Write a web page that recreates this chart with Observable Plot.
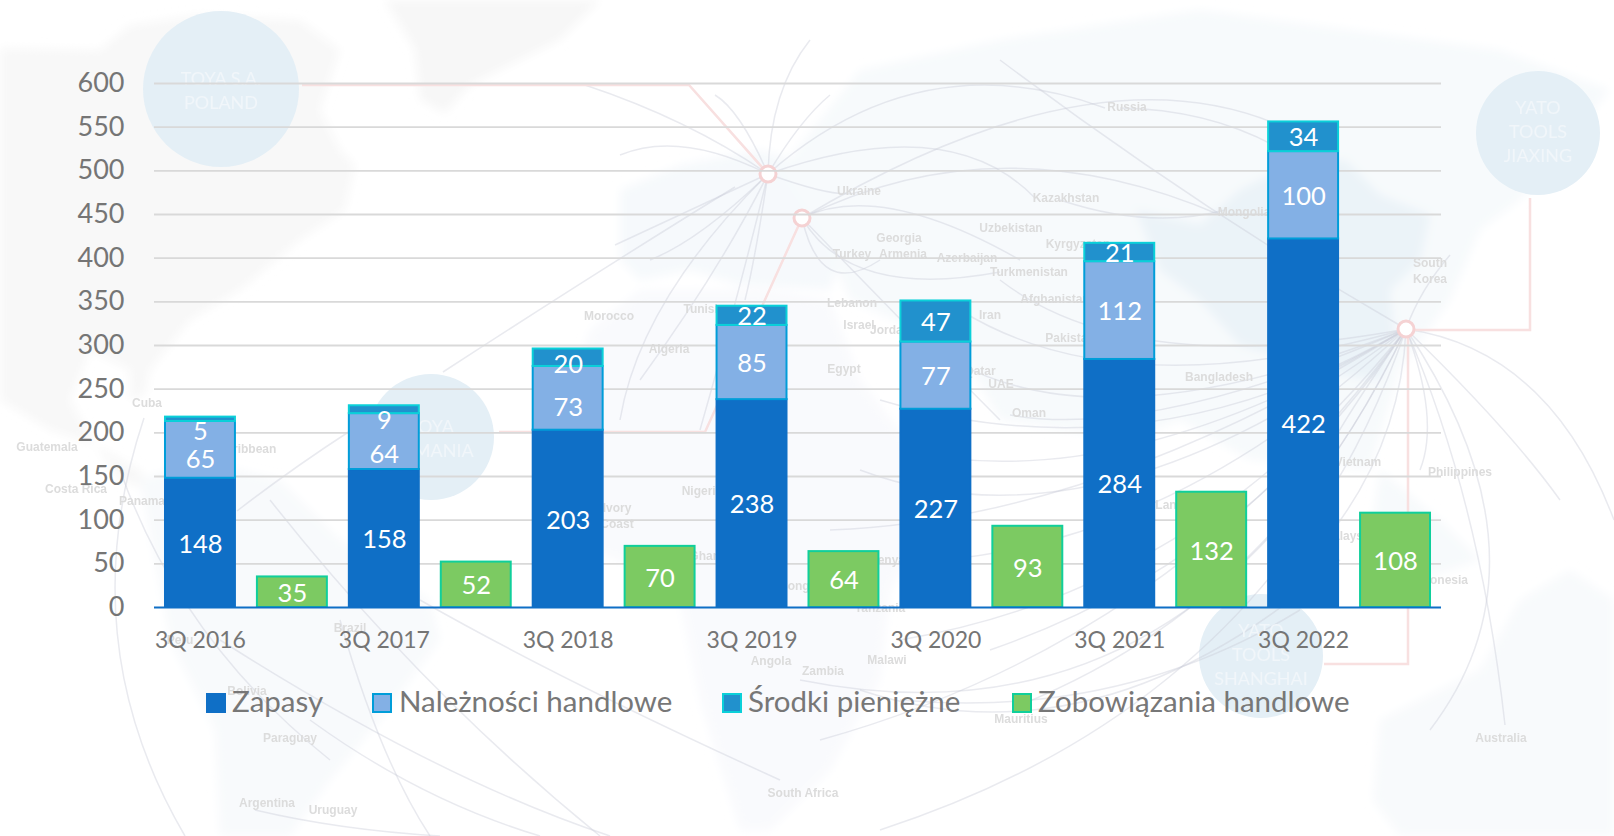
<!DOCTYPE html>
<html lang="pl">
<head>
<meta charset="utf-8">
<script src="https://cdn.jsdelivr.net/npm/d3@7"></script>
<script src="https://cdn.jsdelivr.net/npm/@observablehq/plot@0.6"></script>
<style>
html,body{margin:0;padding:0;background:#fff;overflow:hidden}
#stage{position:relative;width:1614px;height:836px;overflow:hidden;font-family:Lato,sans-serif}
#map,#chart{position:absolute;left:0;top:0}
#chart svg{background:transparent;display:block;overflow:visible}
#legend{position:absolute;left:0;top:680px;width:1614px;height:46px}
#legend .sw{position:absolute;top:13px;width:16px;height:16px;border-style:solid;border-width:2px}
#legend .tx{position:absolute;top:2px;font-size:29.5px;line-height:38px;color:#777;white-space:nowrap}
</style>
</head>
<body>
<div id="stage">
  <svg id="map" width="1614" height="836"></svg>
  <div id="chart"></div>
  <div id="legend"></div>
</div>
<script>
// ---- chart data ----
const quarters = ["3Q 2016","3Q 2017","3Q 2018","3Q 2019","3Q 2020","3Q 2021","3Q 2022"];
const zapasy = [148,158,203,238,227,284,422];
const naleznosci = [65,64,73,85,77,112,100];
const srodki = [5,9,20,22,47,21,34];
const zobowiazania = [35,52,70,64,93,132,108];
const seriesNames = ["Zapasy","Należności handlowe","Środki pieniężne","Zobowiązania handlowe"];
const fills = ["#0f6fc6","#83b0e5","#2191cd","#7cca62"];
const strokes = ["#0f6fc6","#009dd9","#0bd0d9","#10cf9b"];
const yTicks = [0,50,100,150,200,250,300,350,400,450,500,550,600];
// labels the original moved by hand off the segment middle, in value units
const labelShift = {"3Q 2016|65":-10,"3Q 2016|5":-13,"3Q 2017|64":-13,"3Q 2017|9":-11,"3Q 2018|73":-9,"3Q 2018|20":-6};

const assets = q => q + "|a", liabilities = q => q + "|l";
const xDomain = quarters.flatMap(q => [assets(q), liabilities(q)]);
const rows = [];
const labels = [];
quarters.forEach((q,i) => {
  let base = 0;
  [zapasy,naleznosci,srodki].forEach((arr,s) => {
    rows.push({x:assets(q),series:s,value:arr[i]});
    labels.push({x:assets(q),value:arr[i],mid:base+arr[i]/2+(labelShift[q+"|"+arr[i]]||0)});
    base += arr[i];
  });
  rows.push({x:liabilities(q),series:3,value:zobowiazania[i]});
  labels.push({x:liabilities(q),value:zobowiazania[i],mid:zobowiazania[i]/2});
});

const chart = Plot.plot({
  width:1614,height:670,
  marginLeft:154,marginRight:173,marginTop:83,marginBottom:63,
  style:{background:"transparent",fontFamily:"Lato,sans-serif"},
  x:{domain:xDomain,paddingInner:20/92,paddingOuter:10/92,round:false,label:null},
  y:{domain:[0,600],label:null},
  marks:[
    Plot.ruleY(yTicks.slice(1),{stroke:"#d9d9d9",strokeWidth:1.8,strokeOpacity:1}),
    Plot.barY(rows,Plot.stackY({
      x:"x",y:"value",z:"series",order:null,
      fill:d=>fills[d.series],stroke:d=>strokes[d.series],
      strokeWidth:2,insetLeft:1,insetRight:1
    })),
    Plot.ruleY([0],{stroke:"#0f6fc6",strokeWidth:2}),
    Plot.text(labels,{x:"x",y:"mid",dy:1.5,text:d=>String(d.value),fill:"#fff",fontSize:25.5,fontFamily:"Lato,sans-serif"}),
    Plot.axisY(yTicks,{tickSize:0,tickPadding:30,label:null,fontSize:27,fill:"#757575",fontFamily:"Lato,sans-serif",tickFormat:d=>String(d),anchor:"left"}),
    Plot.axisX(quarters.map(assets),{tickSize:0,tickPadding:24,label:null,fontSize:23,fill:"#757575",fontFamily:"Lato,sans-serif",tickFormat:d=>d.split("|")[0],anchor:"bottom"})
  ]
});
document.getElementById("chart").append(chart);

// ---- legend ----
const legendSwatchX = [206,372,722,1012];
const legendTextX = [232,399,748,1038];
const legend = d3.select("#legend");
seriesNames.forEach((name,i)=>{
  legend.append("div").attr("class","sw").style("left",legendSwatchX[i]+"px").style("background",fills[i]).style("border-color",strokes[i]);
  legend.append("div").attr("class","tx").style("left",legendTextX[i]+"px").text(name);
});

// ---- decorative world-map backdrop (not data) ----
const land = [
 ["#f8f8f8","M0,48 L100,50 130,25 200,15 300,20 340,50 320,110 340,150 355,165 345,210 300,240 240,290 190,320 150,370 145,395 130,400 130,370 90,350 70,400 95,445 50,430 0,400Z"],
 ["#f7f7f7","M385,0 L600,0 560,40 500,70 470,85 445,113 420,100 415,50Z"],
 ["#f8f8f8","M95,445 L140,470 150,490 120,480Z"],
 ["#f8fafc","M140,480 L200,460 280,480 340,540 430,600 440,640 380,720 330,780 290,836 220,836 215,730 170,640Z"],
 ["#f6f9fc","M620,190 L680,165 760,150 830,170 850,230 830,290 740,285 690,270 640,280 620,260Z"],
 ["#f9fafd","M590,330 L640,290 760,290 830,300 860,380 930,470 940,500 890,590 880,680 830,770 770,830 740,830 700,700 680,600 640,570 570,540 555,440Z"],
 ["#f7fafc","M780,170 L860,70 1000,40 1200,10 1500,50 1610,90 1520,200 1480,230 1450,300 1400,370 1370,470 1250,460 1180,420 1130,440 1000,420 960,350 850,300 820,230Z"],
 ["#ebf3f8","M1136,210 L1200,225 1240,190 1290,165 1345,160 1380,195 1430,215 1420,260 1390,290 1395,340 1380,380 1340,375 1240,345 1200,300 1160,270Z"],
 ["#f7fafc","M1380,470 L1440,520 1480,560 1420,580 1370,540Z"],
 ["#f8fafc","M1373,800 L1380,720 1480,670 1520,600 1570,570 1614,600 1614,836 1400,836Z"]
];
const hubA=[768,174], hubB=[802,218], hubC=[1406,329];
const curves = [
 [hubA,[680,130],[620,155]],[hubA,[700,240],[650,260]],[hubA,[690,210],[615,245]],[hubA,[720,270],[640,380]],
 [hubA,[740,290],[700,430]],[hubA,[755,260],[745,300]],[hubA,[640,300],[620,420]],[hubA,[770,90],[810,40]],
 [hubA,[740,110],[715,95]],[hubA,[800,120],[830,95]],[[768,174],[690,120],[585,85]],[[735,187],[600,270],[443,372]],
 [[350,431],[290,470],[237,511]],[hubA,[920,40],[1105,108]],[hubA,[950,110],[1035,198]],[hubA,[840,200],[858,192]],
 [hubB,[880,180],[1020,260]],[hubB,[1000,120],[1220,215]],[hubB,[850,300],[1000,272]],[hubB,[900,320],[1000,420]],
 [hubB,[1100,40],[1290,130]],[hubB,[820,300],[880,260]],[[1120,108],[1250,110],[1336,190]],[[1060,200],[1150,230],[1225,210]],
 [hubC,[1200,210],[1000,60]],[hubC,[1120,410],[960,310]],[hubC,[1130,380],[1000,280]],[hubC,[1150,440],[1010,415]],
 [hubC,[1050,470],[900,320]],[hubC,[1100,560],[860,470]],[hubC,[1100,520],[830,530]],[hubC,[1200,760],[800,680]],
 [hubC,[1280,600],[1020,705]],[hubC,[1280,700],[880,830]],[hubC,[1180,640],[820,740]],[hubC,[1250,560],[990,650]],
 [hubC,[1330,440],[1330,450]],[hubC,[1400,470],[1290,580]],[hubC,[1440,420],[1420,470]],[hubC,[1510,430],[1560,500]],
 [hubC,[1550,350],[1614,520]],[hubC,[1560,560],[1430,730]],[hubC,[1480,500],[1505,725]],[hubC,[1420,290],[1450,255]],
 [hubC,[1150,480],[880,400]],[hubC,[1120,500],[900,450]],[hubC,[1180,540],[940,560]],[hubC,[1200,590],[900,640]],
 [[1340,560],[1100,770],[860,690]],[[1300,610],[1120,720],[900,700]],
 [[144,418],[70,640],[185,836]],[[120,470],[180,640],[330,760]],[[220,640],[440,780],[610,836]],[[310,720],[420,800],[540,836]],
 [[270,500],[420,690],[600,836]],[[340,620],[380,760],[430,836]],[[420,600],[560,680],[780,780]],[[255,810],[340,830],[440,836]]
];
const redLines = ["M302,85 L689,85 768,174","M499,432 L705,432 802,218","M1530,198 L1530,330 1406,330","M1408,329 L1408,664 1324,664"];
const circles = [[221,89,78,["TOYA S.A.","POLAND"]],[431,437,63,["TOYA","ROMANIA"]],[1538,133,62,["YATO","TOOLS","JIAXING"]],[1261,656,62,["YATO","TOOLS","SHANGHAI"]]];
const countries = [["Russia",1127,108],["Ukraine",859,192],["Kazakhstan",1066,199],["Mongolia",1244,213],["Uzbekistan",1011,229],["Georgia",899,239],["Turkey",852,255],["Armenia",903,255],["Azerbaijan",967,259],["Turkmenistan",1029,273],["Kyrgyzstan",1078,245],["Afghanistan",1055,300],["Lebanon",852,304],["Israel",859,326],["Jordan",890,331],["Iran",990,316],["Pakistan",1070,339],["Morocco",609,317],["Tunisia",704,310],["Algeria",669,350],["Egypt",844,370],["Qatar",980,372],["UAE",1001,385],["Oman",1029,414],["Bangladesh",1219,378],["South",1430,264],["Korea",1430,280],["Philippines",1460,473],["Vietnam",1358,463],["Malaysia",1348,537],["Indonesia",1440,581],["Sri Lanka",1163,506],["Australia",1501,739],["Cuba",147,404],["Guatemala",47,448],["Costa Rica",76,490],["Panama",142,502],["Caribbean",247,450],["Brazil",350,629],["Peru",180,641],["Bolivia",247,692],["Paraguay",290,739],["Argentina",267,804],["Uruguay",333,811],["Angola",771,662],["Zambia",823,672],["Malawi",887,661],["Tanzania",880,609],["Kenya",887,561],["Mauritius",1021,720],["South Africa",803,794],["Nigeria",702,492],["Ivory",617,509],["Coast",617,525],["Ghana",708,557],["Congo",798,587]];

const map = d3.select("#map");
const defs = map.append("defs");
defs.append("filter").attr("id","soft").attr("x","-5%").attr("y","-5%").attr("width","110%").attr("height","110%").append("feGaussianBlur").attr("stdDeviation",5);
defs.append("filter").attr("id","fine").append("feGaussianBlur").attr("stdDeviation",0.45);
const landLayer = map.append("g").attr("filter","url(#soft)");
land.forEach(([c,d])=>landLayer.append("path").attr("d",d).attr("fill",c));
circles.forEach(([cx,cy,r])=>map.append("circle").attr("cx",cx).attr("cy",cy).attr("r",r).attr("fill","#e4eff6"));
const lineLayer = map.append("g").attr("filter","url(#fine)");
curves.forEach(([a,c,b])=>lineLayer.append("path").attr("d",`M${a} Q${c} ${b}`).attr("fill","none").attr("stroke","#c9cbd8").attr("stroke-opacity",.4).attr("stroke-width",1.5));
redLines.forEach(d=>lineLayer.append("path").attr("d",d).attr("fill","none").attr("stroke","#f8e0e0").attr("stroke-width",2.5));
[hubA,hubB,hubC].forEach(([x,y])=>lineLayer.append("circle").attr("cx",x).attr("cy",y).attr("r",8).attr("fill","#fff").attr("stroke","#f5d2d3").attr("stroke-width",3));
const labelLayer = map.append("g").attr("filter","url(#fine)");
countries.forEach(([t,x,y])=>labelLayer.append("text").attr("x",x).attr("y",y).attr("text-anchor","middle").attr("dominant-baseline","middle").attr("font-family","Liberation Sans,sans-serif").attr("font-weight",700).attr("font-size",12).attr("fill","#dcdcdc").text(t));
circles.forEach(([cx,cy,,lines])=>{
  const top = cy-(lines.length-1)*12+(lines.length===2?3:0);
  lines.forEach((t,i)=>labelLayer.append("text").attr("x",cx).attr("y",top+i*24).attr("text-anchor","middle").attr("dominant-baseline","middle").attr("font-family","Lato,sans-serif").attr("font-size",18).attr("fill","#f1f6fa").text(t));
});
</script>
</body>
</html>
